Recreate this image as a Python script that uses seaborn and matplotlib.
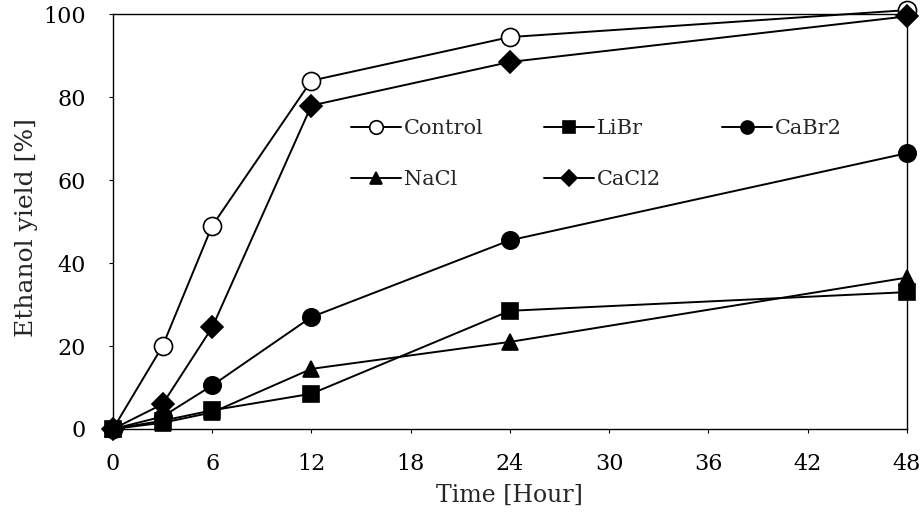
import matplotlib
matplotlib.use("Agg")
import matplotlib.pyplot as plt
import seaborn as sns
import pandas as pd

time_h = [0, 3, 6, 12, 24, 48]
control = [0, 20, 49, 84, 94.5, 101]
libr = [0, 2, 4.5, 8.5, 28.5, 33]
cabr2 = [0, 3, 10.5, 27, 45.5, 66.5]
nacl = [0, 1.5, 4, 14.5, 21, 36.5]
cacl2 = [0, 6, 24.5, 78, 88.5, 99.5]
x_ticks = [0, 6, 12, 18, 24, 30, 36, 42, 48]
y_ticks = [0, 20, 40, 60, 80, 100]

sns.set_theme(style="white")
plt.rcParams['font.family'] = ['DejaVu Serif', 'Liberation Serif']

fig = plt.figure(figsize=(9.23, 5.21), dpi=100)
ax = fig.add_axes([0.1224, 0.1766, 0.860, 0.796])

series = [
    ("Control", control, dict(marker='o', markerfacecolor='white', markersize=13)),
    ("LiBr", libr, dict(marker='s', markerfacecolor='black', markersize=12)),
    ("CaBr2", cabr2, dict(marker='o', markerfacecolor='black', markersize=12.5)),
    ("NaCl", nacl, dict(marker='^', markerfacecolor='black', markersize=12)),
    ("CaCl2", cacl2, dict(marker='D', markerfacecolor='black', markersize=11)),
]
for name, vals, st in series:
    df = pd.DataFrame({"t": time_h, "y": vals})
    sns.lineplot(data=df, x="t", y="y", ax=ax, color='black', linewidth=1.4,
                 markeredgecolor='black', markeredgewidth=1.2, clip_on=False,
                 label=name, **st)

ax.set_xlim(0, 48)
ax.set_ylim(0, 100)
ax.set_xticks(x_ticks)
ax.set_yticks(y_ticks)
ax.set_xlabel("Time [Hour]", fontsize=17, labelpad=7)
ax.set_ylabel("Ethanol yield [%]", fontsize=18)
ax.yaxis.set_label_coords(-0.0945, 0.486)
ax.tick_params(axis='both', labelsize=16, direction='out', length=3, width=0.8,
               bottom=True, left=True, colors='black')
ax.tick_params(axis='x', pad=14)
ax.tick_params(axis='y', pad=16.5)
for s in ax.spines.values():
    s.set_color('black')
    s.set_linewidth(1.0)

h, l = ax.get_legend_handles_labels()
d = dict(zip(l, h))
order = ["Control", "NaCl", "LiBr", "CaCl2", "CaBr2"]
leg = ax.legend([d[k] for k in order], order, ncol=3, frameon=False,
                loc='upper left', bbox_to_anchor=(0.2997, 0.747), fontsize=15,
                borderaxespad=0, borderpad=0,
                columnspacing=2.9, handlelength=2.4, handletextpad=0.15,
                labelspacing=1.55, markerscale=0.75)

fig.savefig("out.png", dpi=100)
